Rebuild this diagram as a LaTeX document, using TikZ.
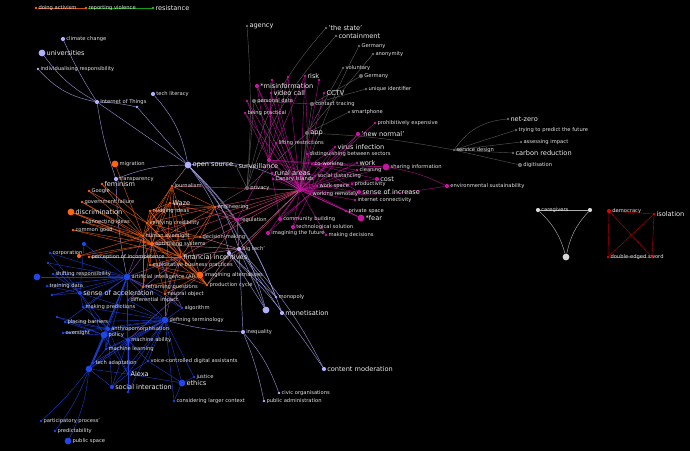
\documentclass[tikz,border=0pt]{standalone}
\usepackage{fontspec}
\setmainfont{DejaVu Sans}
\pgfdeclarelayer{back}
\pgfdeclarelayer{edges}
\pgfsetlayers{back,edges,main}
\definecolor{lavc}{RGB}{176,176,255}
\definecolor{grayc}{RGB}{105,105,105}
\definecolor{magc}{RGB}{200,20,160}
\definecolor{orac}{RGB}{255,100,20}
\definecolor{bluc}{RGB}{30,70,235}
\definecolor{grnc}{RGB}{20,200,20}
\definecolor{redc}{RGB}{225,0,0}
\definecolor{whc}{RGB}{215,215,215}
\definecolor{pinkc}{RGB}{230,70,120}
\definecolor{salc}{RGB}{215,150,180}
\definecolor{vioc}{RGB}{150,90,200}
\tikzset{
  sdot/.style={circle,inner sep=0pt,minimum size=2.6pt},
  mdot/.style={circle,inner sep=0pt,minimum size=4.2pt},
  ldot/.style={circle,inner sep=0pt,minimum size=6.8pt},
  tl/.style={text=white!90!black,inner sep=0.8pt,font=\fontsize{5.2}{6}\selectfont},
  tb/.style={text=white!94!black,inner sep=0.8pt,font=\fontsize{6.6}{7}\selectfont},
  e/.style={line width=0.45pt,draw opacity=0.8},
}
\begin{document}
\begin{tikzpicture}[x=1pt,y=-1pt]
  \begin{pgfonlayer}{back}
    \fill[black] (0,0) rectangle (690,451);
  \end{pgfonlayer}
  \useasboundingbox (0,0) rectangle (690,451);
  % top strand
  \node[sdot,fill=orac,label={[tl]right:doing activism}] (act) at (36,8) {};
  \node[sdot,fill=orac,label={[tl]right:reporting violence}] (repv) at (86,8) {};
  \node[sdot,fill=grnc,label={[tb]right:resistance}] (res) at (153,8) {};
  % lavender group
  \node[mdot,fill=lavc,label={[tl]right:climate change}] (clim) at (63,39) {};
  \node[ldot,fill=lavc,label={[tb]right:universities}] (uni) at (42,53) {};
  \node[sdot,fill=lavc,label={[tl]right:individualising responsibility}] (indiv) at (38,69) {};
  \node[mdot,fill=lavc,label={[tl]right:Internet of Things}] (iot) at (97,102) {};
  \node[sdot,fill=lavc] (lava) at (137,107) {};
  \node[mdot,fill=lavc,label={[tl]right:tech literacy}] (techlit) at (153,94) {};
  \node[ldot,fill=lavc,label={[tb]right:open source}] (opens) at (188,165) {};
  \node[mdot,fill=lavc,label={[tl]right:transparency}] (transp) at (116,179) {};
  \node[mdot,fill=lavc,label={[tl]right:big tech'}] (bigtech) at (239,249) {};
  \node[mdot,fill=lavc] (lavb) at (229,253) {};
  \node[sdot,fill=lavc,label={[tl]right:monopoly}] (monop) at (276,297) {};
  \node[ldot,fill=lavc] (lavd) at (266,310) {};
  \node[mdot,fill=lavc,label={[tb]right:monetisation}] (monet) at (282,313) {};
  \node[mdot,fill=lavc,label={[tl]right:inequality}] (ineq) at (243,332) {};
  \node[mdot,fill=lavc,label={[tb]right:content moderation}] (contm) at (324,369) {};
  \node[sdot,fill=lavc,label={[tl]right:civic organisations}] (civic) at (279,393) {};
  \node[sdot,fill=lavc,label={[tl]right:public administration}] (pubadm) at (264,401) {};
  % grey group
  \node[sdot,fill=grayc,label={[tb]right:agency}] (agency) at (247,26) {};
  \node[sdot,fill=grayc,label={[tb]right:'the state'}] (state) at (326,28) {};
  \node[sdot,fill=grayc,label={[tb]right:containment}] (contain) at (336,36) {};
  \node[sdot,fill=grayc,label={[tl]right:Germany}] (germa) at (359,46) {};
  \node[sdot,fill=grayc,label={[tl]right:anonymity}] (anon) at (373,54) {};
  \node[sdot,fill=grayc,label={[tl]right:voluntary}] (volun) at (343,68) {};
  \node[mdot,fill=grayc,label={[tl]right:Germany}] (germb) at (361,76) {};
  \node[sdot,fill=grayc,label={[tl]right:unique identifier}] (uniq) at (366,89) {};
  \node[mdot,fill=grayc,label={[tl]right:personal data}] (pdata) at (254,101) {};
  \node[mdot,fill=grayc,label={[tl]right:contact tracing}] (ctrace) at (312,104) {};
  \node[sdot,fill=grayc,label={[tl]right:smartphone}] (smart) at (349,112) {};
  \node[mdot,fill=grayc,label={[tb]right:app}] (app) at (307,133) {};
  \node[sdot,fill=grayc,label={[tb]right:surveillance}] (surv) at (236,166) {};
  \node[mdot,fill=grayc,label={[tl]right:privacy}] (privacy) at (247,188) {};
  \node[sdot,fill=grayc,label={[tl]right:service design}] (servd) at (454,150) {};
  \node[sdot,fill=grayc,label={[tb]right:net-zero}] (netz) at (508,119) {};
  \node[sdot,fill=grayc,label={[tl]right:trying to predict the future}] (tryp) at (516,130) {};
  \node[sdot,fill=grayc,label={[tl]right:assessing impact}] (assess) at (521,142) {};
  \node[sdot,fill=grayc,label={[tb]right:carbon reduction}] (carbon) at (513,153) {};
  \node[mdot,fill=grayc,label={[tl]right:digitisation}] (digit) at (520,165) {};
  % magenta group
  \node[mdot,fill=magc] (hub) at (300,190) {};
  \node[mdot,fill=magc,label={[tb]right:*misinformation}] (misinf) at (257,86) {};
  \node[sdot,fill=magc] (mga) at (272,80) {};
  \node[sdot,fill=magc] (mgb) at (288,77) {};
  \node[sdot,fill=magc,label={[tb]right:risk}] (risk) at (305,76) {};
  \node[sdot,fill=magc] (mgc) at (319,80) {};
  \node[sdot,fill=magc,label={[tb]right:video call}] (vcall) at (271,93) {};
  \node[sdot,fill=magc,label={[tb]right:CCTV}] (cctv) at (324,93) {};
  \node[sdot,fill=magc] (mgd) at (247,101) {};
  \node[sdot,fill=magc,label={[tl]right:being practical}] (bprac) at (245,113) {};
  \node[sdot,fill=magc,label={[tl]right:prohibitively expensive}] (prohib) at (375,123) {};
  \node[mdot,fill=magc,label={[tb]right:'new normal'}] (newn) at (358,134) {};
  \node[sdot,fill=magc,label={[tl]right:lifting restrictions}] (lift) at (276,143) {};
  \node[sdot,fill=magc,label={[tb]right:virus infection}] (virus) at (335,147) {};
  \node[sdot,fill=magc,label={[tl]right:distinguishing between sectors}] (disting) at (307,154) {};
  \node[sdot,fill=magc,label={[tl]right:co-working}] (cowork) at (312,164) {};
  \node[sdot,fill=magc,label={[tb]right:work}] (work) at (357,163) {};
  \node[sdot,fill=magc,label={[tl]right:cleaning}] (clean) at (357,170) {};
  \node[ldot,fill=magc,label={[tl]right:sharing information}] (share) at (386,167) {};
  \node[mdot,fill=magc] (mge) at (269,160) {};
  \node[sdot,fill=magc,label={[tb]right:rural areas}] (rural) at (272,173) {};
  \node[sdot,fill=magc,label={[tl]right:Canary Islands}] (canary) at (273,179) {};
  \node[sdot,fill=magc,label={[tl]right:social distancing}] (socd) at (315,176) {};
  \node[mdot,fill=magc,label={[tb]right:cost}] (cost) at (377,179) {};
  \node[sdot,fill=magc,label={[tl]right:work space}] (wspace) at (317,186) {};
  \node[sdot,fill=magc,label={[tl]right:productivity}] (prod) at (352,184) {};
  \node[mdot,fill=magc,label={[tb]right:sense of increase}] (soi) at (359,192) {};
  \node[sdot,fill=magc,label={[tl]right:working remotely}] (wrem) at (310,194) {};
  \node[sdot,fill=magc,label={[tl]right:internet connectivity}] (inet) at (355,200) {};
  \node[mdot,fill=magc,label={[tl]right:environmental sustainability}] (envs) at (447,186) {};
  \node[sdot,fill=magc,label={[tl]right:private space}] (privs) at (346,211) {};
  \node[ldot,fill=magc,label={[tb]right:*fear}] (fear) at (361,218) {};
  \node[mdot,fill=magc,label={[tl]right:community building}] (commb) at (280,219) {};
  \node[mdot,fill=magc,label={[tl]right:technological solution}] (techsol) at (293,227) {};
  \node[mdot,fill=magc,label={[tl]right:imagining the future}] (imfut) at (268,233) {};
  \node[sdot,fill=magc,label={[tl]right:making decisions}] (makd) at (326,235) {};
  \node[mdot,fill=magc,label={[tl]right:regulation}] (regul) at (237,220) {};
  % orange group
  \node[ldot,fill=orac,label={[tl]right:migration}] (migr) at (115,164) {};
  \node[sdot,fill=orac,label={[tb]right:feminism}] (fem) at (102,184) {};
  \node[sdot,fill=orac,label={[tl]right:Google}] (google) at (89,191) {};
  \node[sdot,fill=orac,label={[tl]right:journalism}] (journ) at (172,186) {};
  \node[sdot,fill=orac,label={[tl]right:government failure}] (govf) at (82,202) {};
  \node[sdot,fill=orac,label={[tb]right:Waze}] (waze) at (170,203) {};
  \node[ldot,fill=orac,label={[tb]right:discrimination}] (discr) at (71,212) {};
  \node[sdot,fill=orac,label={[tl]right:nudging ideas}] (nudge) at (150,211) {};
  \node[sdot,fill=orac,label={[tl]right:connecting ideas}] (conn) at (83,222) {};
  \node[sdot,fill=orac,label={[tl]right:verifying credibility}] (verif) at (147,223) {};
  \node[sdot,fill=orac,label={[tl]right:common good}] (common) at (73,230) {};
  \node[sdot,fill=orac,label={[tl]right:human oversight}] (humo) at (143,236) {};
  \node[mdot,fill=orac,label={[tl]right:optimising systems}] (optim) at (152,244) {};
  \node[sdot,fill=orac,label={[tl]right:engineering}] (engin) at (215,207) {};
  \node[sdot,fill=orac,label={[tl]right:decision-making}] (decm) at (200,237) {};
  \node[mdot,fill=orac] (ora) at (79,256) {};
  \node[sdot,fill=orac,label={[tl]right:perception of incompetence}] (percep) at (89,257) {};
  \node[sdot,fill=orac,label={[tb]right:financial incentives}] (fininc) at (181,257) {};
  \node[sdot,fill=orac,label={[tl]right:exploitative business practices}] (explo) at (150,265) {};
  \node[ldot,fill=orac,label={[tl]right:imagining alternatives}] (imalt) at (200,275) {};
  \node[sdot,fill=orac,label={[tl]right:reframing questions}] (reframe) at (143,287) {};
  \node[sdot,fill=orac,label={[tl]right:production cycle}] (prodc) at (207,285) {};
  \node[sdot,fill=orac,label={[tl]right:neutral object}] (neutral) at (165,294) {};
  % blue group
  \node[sdot,fill=bluc,label={[tl]right:corporation}] (corp) at (50,253) {};
  \node[mdot,fill=bluc] (bla) at (84,244) {};
  \node[sdot,fill=bluc] (blb) at (48,263) {};
  \node[sdot,fill=bluc,label={[tl]right:shifting responsibility}] (shift) at (53,274) {};
  \node[ldot,fill=bluc] (blc) at (37,277) {};
  \node[sdot,fill=bluc,label={[tl]right:training data}] (train) at (47,286) {};
  \node[sdot,fill=bluc] (bld) at (52,295) {};
  \node[ldot,fill=bluc,label={[tl]right:artificial intelligence (AI)}] (ai) at (127,277) {};
  \node[mdot,fill=bluc,label={[tb]right:sense of acceleration}] (acc) at (80,293) {};
  \node[sdot,fill=bluc,label={[tl]right:differential impact}] (diffi) at (128,300) {};
  \node[sdot,fill=bluc,label={[tl]right:making predictions}] (makp) at (83,307) {};
  \node[sdot,fill=bluc,label={[tl]right:algorithm}] (algo) at (182,308) {};
  \node[sdot,fill=bluc] (ble) at (57,317) {};
  \node[sdot,fill=bluc,label={[tl]right:placing barriers}] (placb) at (65,322) {};
  \node[ldot,fill=bluc,label={[tl]right:defining terminology}] (defterm) at (165,320) {};
  \node[mdot,fill=bluc,label={[tl]right:anthropomorphisation}] (anthro) at (108,329) {};
  \node[sdot,fill=bluc,label={[tl]right:oversight}] (oversight) at (63,333) {};
  \node[ldot,fill=bluc,label={[tl]right:policy}] (policy) at (104,335) {};
  \node[mdot,fill=bluc,label={[tl]right:machine ability}] (machab) at (128,340) {};
  \node[sdot,fill=bluc,label={[tl]right:machine learning}] (machl) at (106,349) {};
  \node[sdot,fill=bluc,label={[tl]right:tech adaptation}] (techad) at (93,363) {};
  \node[sdot,fill=bluc,label={[tl]right:voice-controlled digital assistants}] (voice) at (148,361) {};
  \node[ldot,fill=bluc] (blf) at (89,369) {};
  \node[sdot,fill=bluc,label={[tb]right:Alexa}] (alexa) at (128,374) {};
  \node[mdot,fill=bluc,label={[tb]right:social interaction}] (socint) at (112,387) {};
  \node[sdot,fill=bluc] (blg) at (128,392) {};
  \node[ldot,fill=bluc,label={[tb]right:ethics}] (ethics) at (182,383) {};
  \node[sdot,fill=bluc,label={[tl]right:justice}] (justice) at (194,377) {};
  \node[sdot,fill=bluc,label={[tl]right:considering larger context}] (consid) at (174,401) {};
  \node[sdot,fill=bluc,label={[tl]right:participatory process'}] (partp) at (41,421) {};
  \node[sdot,fill=bluc,label={[tl]right:predictability}] (predict) at (55,431) {};
  \node[ldot,fill=bluc,label={[tl]right:public space}] (pubsp) at (68,441) {};
  % separate components
  \node[mdot,fill=whc,label={[tl]right:caregivers}] (care) at (538,210) {};
  \node[mdot,fill=whc] (wha) at (590,210) {};
  \node[ldot,fill=whc] (whb) at (566,257) {};
  \node[mdot,fill=redc,label={[tl]right:democracy}] (demo) at (609,211) {};
  \node[sdot,fill=redc,label={[tb]right:isolation}] (isol) at (654,214) {};
  \node[sdot,fill=redc,label={[tl]right:double-edged sword}] (dbl) at (608,257) {};
  \node[sdot,fill=redc] (rda) at (652,257) {};

  \begin{pgfonlayer}{edges}
    % top strand
    \draw[e,orac] (act) -- (repv);
    \draw[e,grnc] (repv) -- (res);
    % lavender
    \foreach \n/\b in {uni/12,clim/4,indiv/18}
      \draw[e,lavc] (\n) to[bend right=\b] (iot);
    \draw[e,lavc] (iot) to[bend left=5] (lava);
    \draw[e,lavc] (iot) -- (opens);
    \draw[e,lavc] (lava) -- (opens);
    \draw[e,lavc] (techlit) to[bend left=15] (opens);
    \draw[e,lavc] (iot) to[bend right=5] (transp);
    \draw[e,lavc] (transp) to[bend right=5] (ai);
    \draw[e,lavc] (transp) to[bend left=10] (opens);
    \foreach \n in {bigtech,lavb,monop,lavd,monet}
      \draw[e,lavc] (opens) to[bend left=12] (\n);
    \foreach \n in {monop,lavd,monet,ineq}
      \draw[e,lavc] (bigtech) -- (\n);
    \draw[e,lavc] (bigtech) to[bend left=8] (contm);
    \draw[e,lavc] (lavb) -- (lavd);
    \draw[e,lavc] (lavb) -- (monop);
    \draw[e,lavc] (lavb) to[bend left=5] (contm);
    \draw[e,lavc] (ineq) to[bend left=10] (civic);
    \draw[e,lavc] (ineq) to[bend left=5] (pubadm);
    \draw[e,lavc] (ineq) to[bend left=6] (defterm);
    \draw[e,lavc] (opens) to[bend left=10] (surv);
    \draw[e,lavc] (opens) to[bend left=20] (hub);
    % grey
    \draw[e,grayc] (agency) to[bend left=4] (privacy);
    \draw[e,grayc] (state) to[bend right=15] (privacy);
    \draw[e,grayc] (contain) to[bend right=12] (privacy);
    \draw[e,grayc] (germa) to[bend right=5] (hub);
    \foreach \n in {anon,volun,smart}
      \draw[e,grayc] (\n) -- (app);
    \foreach \n in {germb,uniq}
      \draw[e,grayc] (\n) -- (ctrace);
    \draw[e,grayc] (ctrace) -- (pdata);
    \draw[e,grayc] (pdata) -- (privacy);
    \draw[e,grayc] (app) -- (privacy);
    \draw[e,grayc] (privacy) -- (surv);
    \draw[e,grayc] (privacy) -- (engin);
    \draw[e,grayc] (servd) to[bend right=4] (app);
    \draw[e,grayc] (servd) to[bend left=25] (netz);
    \foreach \n in {tryp,assess,carbon,digit}
      \draw[e,grayc] (servd) -- (\n);
    \foreach \n in {app,ctrace,pdata,privacy}
      \draw[e,grayc] (\n) -- (hub);
    % magenta
    \foreach \n in {misinf,mga,mgb,risk,mgc,vcall,cctv,mgd,bprac,prohib,newn,lift,virus,disting,cowork,work,clean,share,mge,rural,canary,socd,cost,wspace,prod,soi,wrem,inet,privs,fear,commb,techsol,imfut,makd,regul}
      \draw[e,magc] (hub) -- (\n);
    \foreach \n in {misinf,mga,mgb,risk,bprac,lift,cowork,socd,wrem,commb,regul,share,mgd,vcall}
      \draw[e,magc] (mge) -- (\n);
    \foreach \n in {work,clean,share,cost,soi,virus}
      \draw[e,magc] (cowork) -- (\n);
    \foreach \n in {misinf,risk,newn,virus,socd,commb,techsol,imfut,fear}
      \draw[e,magc] (wrem) -- (\n);
    \draw[e,magc] (share) to[bend left=8] (envs);
    \draw[e,magc] (hub) to[bend right=8] (envs);
    \draw[e,magc] (rural) -- (fear);
    \draw[e,magc] (canary) -- (soi);
    % orange
    \foreach \a/\b in {optim/verif,optim/humo,optim/nudge,optim/journ,optim/waze,optim/fininc,optim/explo,optim/reframe,optim/neutral,optim/imalt,optim/prodc,optim/engin,optim/decm,fininc/verif,fininc/nudge,fininc/journ,fininc/waze,fininc/imalt,fininc/prodc,fininc/neutral,fininc/explo,fininc/engin,humo/journ,humo/waze,humo/nudge,humo/explo,humo/reframe,verif/waze,verif/journ,verif/engin,nudge/waze,journ/waze,explo/imalt,explo/prodc,reframe/imalt,neutral/imalt,imalt/prodc,decm/engin,waze/engin,journ/engin,humo/decm,verif/decm,nudge/engin,nudge/prodc,journ/imalt,waze/neutral,verif/prodc}
      \draw[e,orac] (\a) -- (\b);
    \foreach \a/\b in {fem/humo,fem/verif,google/optim,govf/optim,govf/humo,discr/optim,discr/humo,discr/fininc,conn/optim,conn/humo,common/optim,common/fininc,ora/optim,ora/humo,percep/optim,percep/fininc,google/verif,migr/humo}
      \draw[e,orac] (\a) -- (\b);
    \foreach \a/\b in {engin/hub,engin/regul,optim/hub,fininc/hub,decm/hub,imalt/regul,humo/hub,prodc/hub,waze/regul,journ/hub}
      \draw[e,pinkc] (\a) -- (\b);
    \foreach \a/\b in {fininc/bigtech,imalt/bigtech,decm/bigtech,optim/bigtech,journ/opens,prodc/lavb,regul/bigtech,hub/bigtech}
      \draw[e,salc] (\a) -- (\b);
    \foreach \a/\b in {ai/optim,ai/fininc,ai/reframe,ai/neutral,ai/humo,defterm/neutral,defterm/fininc,algo/neutral,algo/optim,diffi/fininc,machab/imalt}
      \draw[e,vioc] (\a) -- (\b);
    % blue
    \foreach \n in {corp,bla,blb,shift,blc,train,acc,diffi,makp,placb,defterm,anthro,policy,machab,machl,techad,blf,alexa,algo,bld}
      \draw[e,bluc] (ai) -- (\n);
    \foreach \n in {acc,diffi,makp,anthro,policy,machab,machl,techad,voice,blf,alexa,socint,ethics,justice,consid,algo,blg,placb,oversight}
      \draw[e,bluc] (defterm) -- (\n);
    \foreach \n in {placb,oversight,policy,machab,machl,techad,blf,alexa,socint,acc,makp,ble}
      \draw[e,bluc] (anthro) -- (\n);
    \foreach \n in {placb,oversight,machl,techad,blf,alexa,acc,ble}
      \draw[e,bluc] (policy) -- (\n);
    \foreach \n in {machl,voice,alexa,blf,socint,blg}
      \draw[e,bluc] (machab) -- (\n);
    \foreach \n in {techad,alexa,socint,machl}
      \draw[e,bluc] (blf) -- (\n);
    \foreach \n/\b in {partp/5,predict/8,pubsp/10}
      \draw[e,bluc] (blf) to[bend left=\b] (\n);
    \foreach \n in {socint,ethics,voice,blg}
      \draw[e,bluc] (alexa) -- (\n);
    \foreach \n in {bla,blb,train,makp,shift,corp,bld}
      \draw[e,bluc] (acc) -- (\n);
    \foreach \n in {justice,consid,voice}
      \draw[e,bluc] (ethics) -- (\n);
    % separate components
    \draw[e,whc] (care) -- (wha);
    \draw[e,whc] (care) to[bend left=15] (whb);
    \draw[e,whc] (wha) to[bend right=15] (whb);
    \foreach \a/\b in {demo/isol,demo/dbl,demo/rda,isol/dbl,isol/rda,dbl/rda}
      \draw[e,redc] (\a) -- (\b);
  \end{pgfonlayer}
\end{tikzpicture}
\end{document}
